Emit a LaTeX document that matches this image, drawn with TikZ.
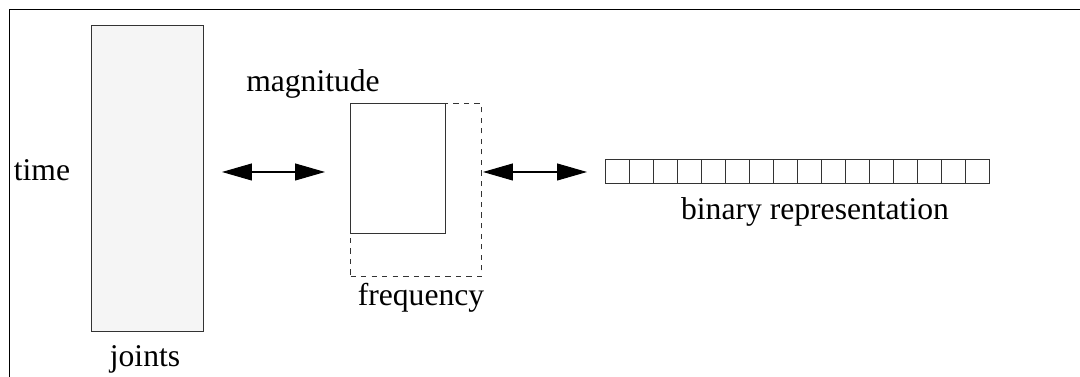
\documentclass[tikz,border=0pt]{standalone}
\usepackage{fontspec}
\setmainfont{Liberation Serif}
\usetikzlibrary{arrows.meta}

\begin{document}
\begin{tikzpicture}[x=0.02cm,y=-0.02cm,
  every node/.style={font=\fontsize{18}{20}\selectfont},
  mybox/.style={draw=boxline,line width=0.6pt,inner sep=0,anchor=north west},
  mycell/.style={draw=boxline,line width=0.6pt,inner sep=0,minimum width=0.48cm,minimum height=0.48cm,anchor=north west},
  mylabel/.style={anchor=base,inner sep=0},
  myarrow/.style={line width=0.6pt,{Triangle[length=0.6cm,width=0.34cm]}-{Triangle[length=0.6cm,width=0.34cm]}}]
\definecolor{boxline}{HTML}{333333}
\definecolor{jointfill}{HTML}{F5F5F5}
\useasboundingbox (0,0) rectangle (1080,377);
\draw[line width=1pt] (1080,9.5) -- (9.5,9.5) -- (9.5,377);

% joints x time block
\node [mybox,fill=jointfill,minimum width=2.24cm,minimum height=6.12cm] (joints) at (91,25) {};
\node [mylabel] (timelbl) at (42,181) {time};
\node [mylabel] (jointslbl) at (145,367) {joints};

% magnitude / frequency block
\node [mybox,dashed,minimum width=2.62cm,minimum height=3.46cm] (spec) at (350,103) {};
\node [mybox,fill=white,minimum width=1.9cm,minimum height=2.6cm] (mag) at (350,103) {};
\node [mylabel] (maglbl) at (313,92) {magnitude};
\node [mylabel] (freqlbl) at (421,306) {frequency};

% bit string
\foreach \i in {0,...,15}
  {\node [mycell] (cell\i) at (605+24*\i,159) {};}
\node [mylabel] (binlbl) at (815,220) {binary representation};

% arrows between the blocks
\coordinate (a1) at (222,172);
\coordinate (b1) at (325,172);
\coordinate (a2) at (483,172);
\coordinate (b2) at (587,172);
\draw [myarrow] (a1) -- (b1);
\draw [myarrow] (a2) -- (b2);
\end{tikzpicture}
\end{document}
